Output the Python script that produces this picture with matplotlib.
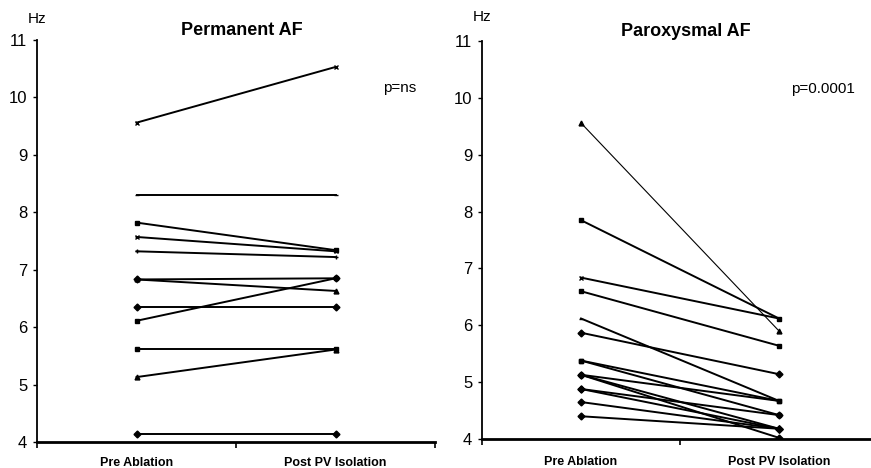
import matplotlib.pyplot as plt
from matplotlib.ticker import FixedLocator

# dominant frequency (Hz) per patient, before and after PV isolation
perm_pre = [9.56, 8.30, 7.82, 7.57, 7.32, 6.83, 6.83, 6.35, 6.11, 5.62, 5.13, 4.14]
perm_post = [10.53, 8.30, 7.34, 7.32, 7.22, 6.85, 6.63, 6.35, 6.85, 5.62, 5.61, 4.14]
perm_markers = ['x', '_', 's', 'x', '+', 'D', '^', 'D', 's', 's', '^', 'D']

parox_pre = [9.56, 7.85, 6.84, 6.60, 6.12, 5.87, 5.38, 5.38, 5.13, 5.13, 4.88, 4.88, 4.65, 4.40, 5.13]
parox_post = [5.90, 6.12, 6.12, 5.64, 4.67, 5.14, 4.67, 4.42, 4.67, 4.18, 4.42, 4.18, 4.18, 4.18, 4.02]
parox_markers = ['^', 's', 'x', 's', '_', 'D', 's', 's', 's', 'D', 'D', 'D', 'D', 'D', 'D']

categories = ['Pre Ablation', 'Post PV Isolation']
yticks = [4, 5, 6, 7, 8, 9, 10, 11]

plt.rcParams['font.family'] = ['Liberation Sans', 'DejaVu Sans']

fig = plt.figure(figsize=(8.71, 4.68), dpi=100)
ax1 = fig.add_axes([0.0425, 0.0556, 0.457, 0.859])
ax2 = fig.add_axes([0.5534, 0.062, 0.4547, 0.850])


def draw_panel(ax, pre, post, markers, title, ptext, p_x, hz_y, lab_pad):
    xs = [0.5, 1.5]
    for a, b, m in zip(pre, post, markers):
        lw = 0.8 if (a - b) > 3 else 1.4
        ax.plot(xs, [a, b], color='black', lw=lw, marker=m, ms=3.5,
                mew=1.0, mfc='black', mec='black')
    ax.set_xlim(0, 2)
    ax.set_ylim(4, 11)
    ax.set_yticks(yticks)
    ax.tick_params(axis='y', labelsize=12, length=3, width=1, pad=4)
    ax.xaxis.set_major_locator(FixedLocator([0, 1, 2]))
    ax.xaxis.set_minor_locator(FixedLocator(xs))
    ax.set_xticklabels([])
    ax.set_xticklabels(categories, minor=True, fontsize=9, fontweight='bold')
    ax.tick_params(axis='x', which='major', length=4, width=1.2, direction='out')
    ax.tick_params(axis='x', which='minor', length=0, pad=lab_pad)
    for s in ['top', 'right']:
        ax.spines[s].set_visible(False)
    ax.spines['left'].set_linewidth(1.3)
    ax.spines['bottom'].set_linewidth(2.0)
    for sp in ax.spines.values():
        sp.set_clip_on(False)
    ax.text(0.0, hz_y, 'Hz', fontsize=11, ha='center', va='center', clip_on=False)
    ax.text(1.03, 11.17, title, fontsize=13, fontweight='bold',
            ha='center', va='center', clip_on=False)
    ax.text(p_x, 10.16, ptext, fontsize=11, ha='left', va='center', clip_on=False)


draw_panel(ax1, perm_pre, perm_post, perm_markers, 'Permanent AF', 'p=ns', 1.74, 11.37, 10.5)
draw_panel(ax2, parox_pre, parox_post, parox_markers, 'Paroxysmal AF', 'p=0.0001', 1.56, 11.42, 12.5)

fig.savefig('out.png', dpi=100)
